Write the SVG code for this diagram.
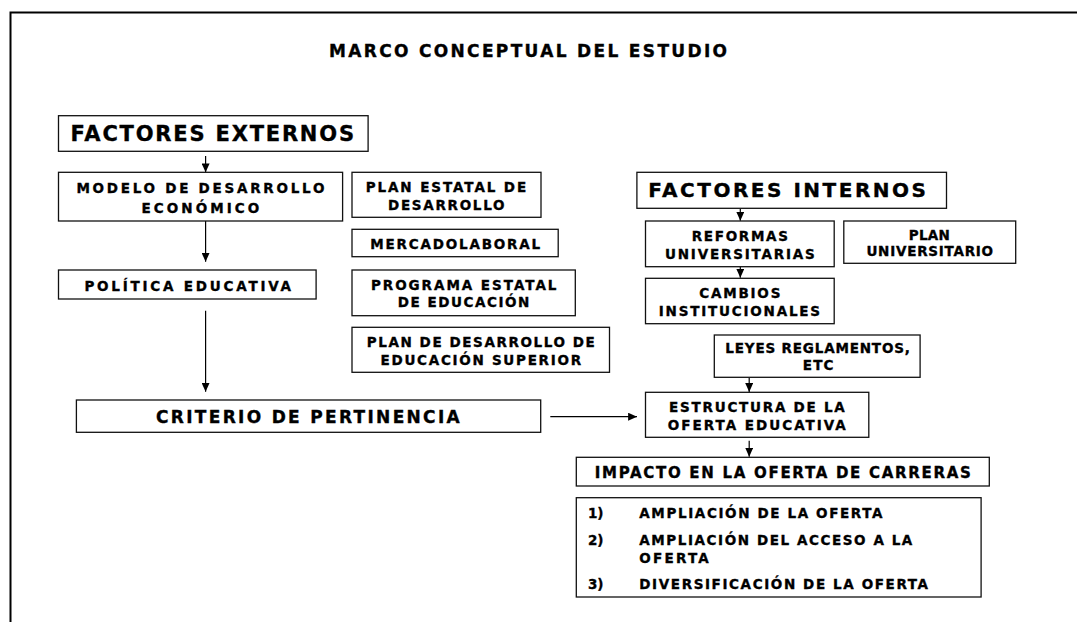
<svg xmlns="http://www.w3.org/2000/svg" width="1077" height="622" viewBox="0 0 1077 622">
<style>
.box{fill:#fff;stroke:#111;stroke-width:1.3}
.t{font-family:"DejaVu Sans","Liberation Sans",Arial,sans-serif;font-weight:bold;fill:#000;stroke:#000;stroke-width:0.35}
.s{font-size:13.5px}
.c{stroke:#000;stroke-width:1.2;fill:none;marker-end:url(#ah)}
</style>
<defs>
<marker id="ah" markerUnits="userSpaceOnUse" viewBox="0 0 10 9" markerWidth="9" markerHeight="8" refX="10" refY="4.5" orient="auto">
<path d="M0,0 L10,4.5 L0,9 z" fill="#000"/>
</marker>
</defs>
<rect x="0" y="0" width="1077" height="622" fill="#fff"/>
<path d="M10.5,640 V12.5 H1090" fill="none" stroke="#000" stroke-width="2"/>
<text class="t" x="329" y="56.7" font-size="17" textLength="398" lengthAdjust="spacing">MARCO CONCEPTUAL DEL ESTUDIO</text>

<g id="connectors">
<line class="c" x1="205.6" y1="156" x2="205.6" y2="172.3"/>
<line class="c" x1="205.6" y1="221" x2="205.6" y2="261.7"/>
<line class="c" x1="205.6" y1="310.7" x2="205.6" y2="391.7"/>
<line class="c" x1="550.3" y1="416.7" x2="637" y2="416.7"/>
<line class="c" x1="740.3" y1="209" x2="740.3" y2="220.7"/>
<line class="c" x1="740.3" y1="267" x2="740.3" y2="277.7"/>
<line class="c" x1="749.2" y1="378" x2="749.2" y2="392"/>
<line class="c" x1="749.2" y1="440.7" x2="749.2" y2="456.7"/>
</g>

<g id="factores-externos">
<rect class="box" x="58.5" y="115.7" width="309.6" height="35.6"/>
<text class="t" x="70.6" y="141" font-size="21" textLength="283.4" lengthAdjust="spacing">FACTORES EXTERNOS</text>
</g>
<g id="modelo">
<rect class="box" x="58.5" y="172.3" width="284.1" height="48.7"/>
<text class="t s" x="76.4" y="193.3" textLength="248" lengthAdjust="spacing">MODELO DE DESARROLLO</text>
<text class="t s" x="141.5" y="213.3" textLength="117.8" lengthAdjust="spacing">ECONÓMICO</text>
</g>
<g id="politica">
<rect class="box" x="58.5" y="270" width="257.6" height="29"/>
<text class="t s" x="84.4" y="290.7" textLength="206.6" lengthAdjust="spacing">POLÍTICA EDUCATIVA</text>
</g>
<g id="criterio">
<rect class="box" x="76.4" y="400" width="464.3" height="32.3"/>
<text class="t" x="156" y="423.3" font-size="17" textLength="303.7" lengthAdjust="spacing">CRITERIO DE PERTINENCIA</text>
</g>
<g id="plan-estatal">
<rect class="box" x="352" y="172.3" width="189" height="45"/>
<text class="t s" x="365.7" y="192.3" textLength="160.5" lengthAdjust="spacing">PLAN ESTATAL DE</text>
<text class="t s" x="388" y="210" textLength="116.5" lengthAdjust="spacing">DESARROLLO</text>
</g>
<g id="mercado">
<rect class="box" x="352" y="229.3" width="206.2" height="27.4"/>
<text class="t s" x="370.2" y="249" textLength="170" lengthAdjust="spacing">MERCADOLABORAL</text>
</g>
<g id="programa">
<rect class="box" x="352" y="270" width="223.3" height="45.7"/>
<text class="t s" x="370.9" y="290" textLength="185.5" lengthAdjust="spacing">PROGRAMA ESTATAL</text>
<text class="t s" x="397.7" y="307.3" textLength="131.6" lengthAdjust="spacing">DE EDUCACIÓN</text>
</g>
<g id="plan-desarrollo">
<rect class="box" x="352" y="327.3" width="257.5" height="45"/>
<text class="t s" x="366.7" y="347.3" textLength="228.1" lengthAdjust="spacing">PLAN DE DESARROLLO DE</text>
<text class="t s" x="380.5" y="365" textLength="200.6" lengthAdjust="spacing">EDUCACIÓN SUPERIOR</text>
</g>
<g id="factores-internos">
<rect class="box" x="636.9" y="172.3" width="309.6" height="36"/>
<text class="t" x="648.2" y="197.3" font-size="20" textLength="277.8" lengthAdjust="spacing">FACTORES INTERNOS</text>
</g>
<g id="reformas">
<rect class="box" x="645.5" y="221" width="188.7" height="45.7"/>
<text class="t s" x="691.7" y="240.7" textLength="96.3" lengthAdjust="spacing">REFORMAS</text>
<text class="t s" x="665" y="259" textLength="149.7" lengthAdjust="spacing">UNIVERSITARIAS</text>
</g>
<g id="plan-universitario">
<rect class="box" x="843.8" y="221" width="171.9" height="42.3"/>
<text class="t s" x="908.8" y="240" textLength="41.1" lengthAdjust="spacing">PLAN</text>
<text class="t s" x="866.4" y="255.7" textLength="126.7" lengthAdjust="spacing">UNIVERSITARIO</text>
</g>
<g id="cambios">
<rect class="box" x="645.5" y="278.3" width="188.7" height="45.4"/>
<text class="t s" x="699.2" y="297.7" textLength="81.2" lengthAdjust="spacing">CAMBIOS</text>
<text class="t s" x="658.8" y="315.7" textLength="161.3" lengthAdjust="spacing">INSTITUCIONALES</text>
</g>
<g id="leyes">
<rect class="box" x="714.3" y="335" width="205.8" height="42.3"/>
<text class="t s" x="725.3" y="353.3" textLength="184.6" lengthAdjust="spacing">LEYES REGLAMENTOS,</text>
<text class="t s" x="802.7" y="370" textLength="30.8" lengthAdjust="spacing">ETC</text>
</g>
<g id="estructura">
<rect class="box" x="645.5" y="392.3" width="223.3" height="45"/>
<text class="t s" x="669.1" y="412.3" textLength="175.7" lengthAdjust="spacing">ESTRUCTURA DE LA</text>
<text class="t s" x="667.7" y="430" textLength="178.1" lengthAdjust="spacing">OFERTA EDUCATIVA</text>
</g>
<g id="impacto">
<rect class="box" x="576.3" y="457.3" width="413" height="28.7"/>
<text class="t" x="594.8" y="478.3" font-size="15" textLength="376" lengthAdjust="spacing">IMPACTO EN LA OFERTA DE CARRERAS</text>
</g>
<g id="lista">
<rect class="box" x="576.3" y="497.7" width="404.8" height="99.3"/>
<text class="t s" x="588" y="518" textLength="15.4" lengthAdjust="spacing">1)</text>
<text class="t s" x="639.3" y="518" textLength="243.2" lengthAdjust="spacing">AMPLIACIÓN DE LA OFERTA</text>
<text class="t s" x="588" y="545" textLength="15.4" lengthAdjust="spacing">2)</text>
<text class="t s" x="639.3" y="545" textLength="273" lengthAdjust="spacing">AMPLIACIÓN DEL ACCESO A LA</text>
<text class="t s" x="639.3" y="563" textLength="69.5" lengthAdjust="spacing">OFERTA</text>
<text class="t s" x="588" y="589.3" textLength="15.4" lengthAdjust="spacing">3)</text>
<text class="t s" x="639.3" y="589.3" textLength="288.7" lengthAdjust="spacing">DIVERSIFICACIÓN DE LA OFERTA</text>
</g>
</svg>
